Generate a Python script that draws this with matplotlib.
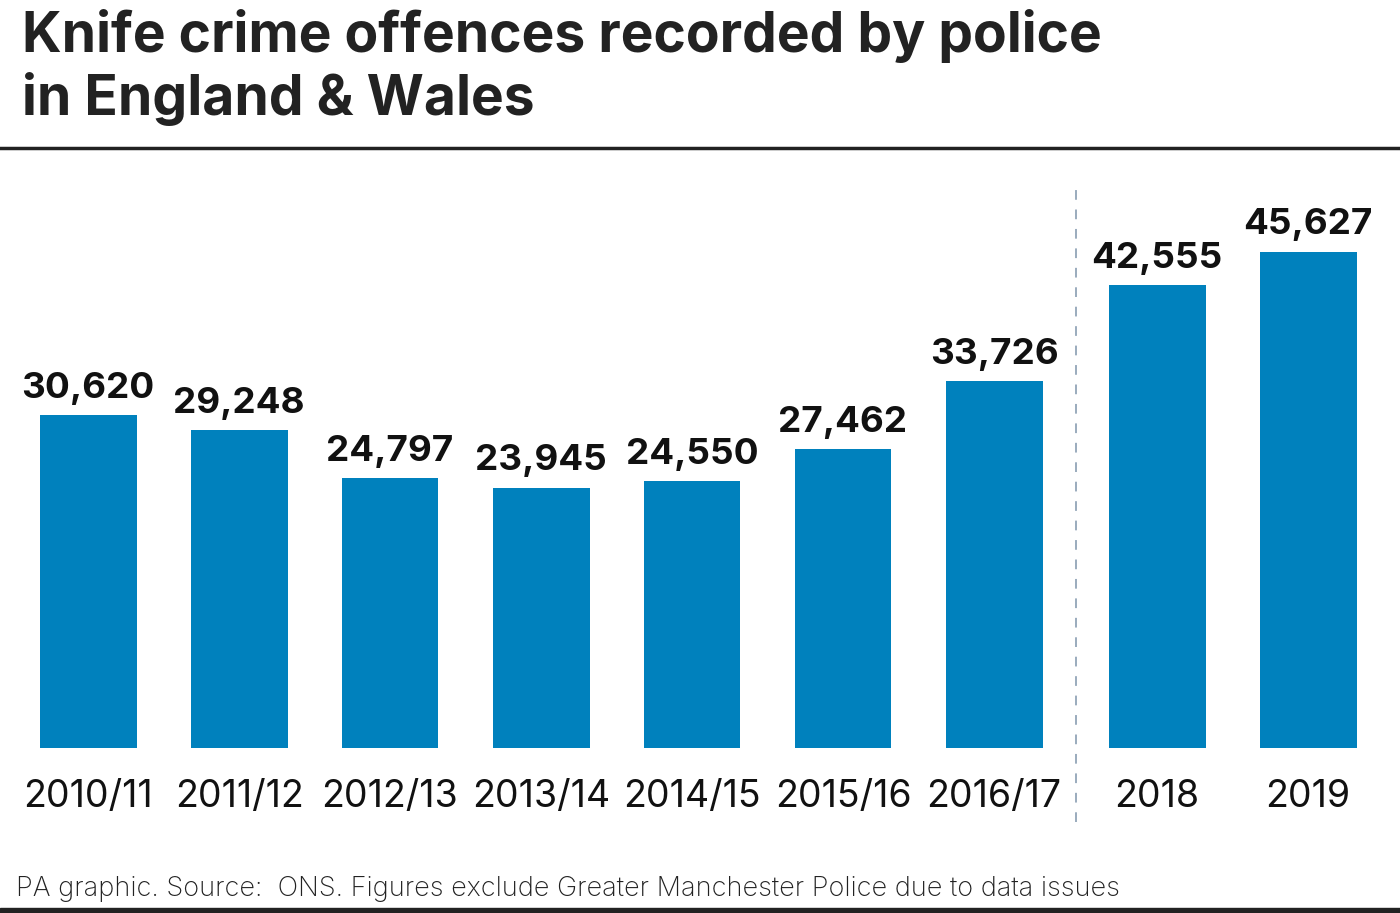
import numpy as np
import matplotlib.pyplot as plt

years = ['2010/11', '2011/12', '2012/13', '2013/14', '2014/15', '2015/16', '2016/17', '2018', '2019']
offences = [30620, 29248, 24797, 23945, 24550, 27462, 33726, 42555, 45627]

plt.rcParams['font.family'] = ['Inter', 'DejaVu Sans']

fig = plt.figure(figsize=(14, 9.13), dpi=100)
H = 913

# bar positions, small extra gap after the break
gap = 12 / 151
x = np.arange(len(years), dtype=float)
x[7:] += gap

px_per_unit = 333 / 30620
ax = fig.add_axes([0, (H - 748) / H, 1, (748 - 170) / H])
ax.bar(x, offences, width=97 / 151, color='#0081bd')
ax.set_xlim(-88 / 151, (1400 - 88) / 151)
ax.set_ylim(0, (748 - 170) / px_per_unit)
ax.axis('off')

for xi, v in zip(x, offences):
    ax.text(xi, v + 1600, f'{v:,}', ha='center', va='baseline',
            fontsize=26.5, fontweight='bold', color='#111111')

for xi, lab in zip(x, years):
    ax.text(xi, -5400, lab, ha='center', va='baseline', fontsize=27, color='#111111')

# dashed divider
xd = (6 + x[7]) / 2
ax.plot([xd, xd], [-6800, 52000], ls=(0, (5, 5)), color='#9aabbd', lw=1.4,
        clip_on=False)

fig.text(22 / 1400, 1 - 52 / H, 'Knife crime offences recorded by police',
         fontsize=39.7, fontweight='bold', color='#222222', ha='left', va='baseline')
fig.text(22 / 1400, 1 - 115 / H, 'in England & Wales',
         fontsize=39.7, fontweight='bold', color='#222222', ha='left', va='baseline')
fig.add_artist(plt.Line2D([0, 1], [1 - 148 / H] * 2, color='#222222', lw=2.5))

fig.text(16 / 1400, 1 - 896 / H,
         'PA graphic. Source:  ONS. Figures exclude Greater Manchester Police due to data issues',
         fontsize=19.5, fontweight='light', color='#222222', ha='left', va='baseline')
fig.add_artist(plt.Rectangle((0, 0), 1, 5 / H, color='#222222'))

fig.savefig('out.png', dpi=100)
